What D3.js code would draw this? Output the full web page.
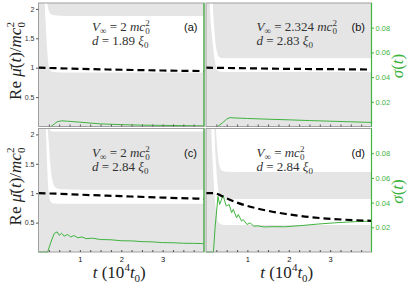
<!DOCTYPE html>
<html>
<head>
<meta charset="utf-8">
<script src="https://cdn.jsdelivr.net/npm/d3@7"></script>
<style>
body { margin: 0; background: #fff; }
svg { display: block; }
.tick text { font-family: "Liberation Sans", Arial, sans-serif; }
.serif { font-family: "Liberation Serif", "DejaVu Serif", serif; }
</style>
</head>
<body>
<script>
// ---- data ----
// t grid shared by the white band boundaries (units of 10^4 t0)
var bandT = [0.05, 0.1, 0.13, 0.15, 0.17, 0.19, 0.21, 0.23, 0.25, 0.28, 0.31, 0.35, 0.4, 0.5, 1, 4];

var aLow  = [9, 4.5, 2.8, 2.15, 1.8, 1.52, 1.3, 1.12, 1.02, 0.96, 0.94, 0.93, 0.925, 0.92, 0.92, 0.92];
var aHigh = [12, 6, 4, 3.3, 2.8, 2.4, 2.12, 2.02, 1.97, 1.93, 1.91, 1.895, 1.89, 1.885, 1.88, 1.88];

var bLow  = [4.5, 1.95, 1.65, 1.5, 1.36, 1.23, 1.13, 1.06, 1.0, 0.955, 0.94, 0.93, 0.927, 0.925, 0.925, 0.925];
var bHigh = [9, 4.5, 2.9, 2.35, 2.0, 1.75, 1.56, 1.42, 1.32, 1.23, 1.19, 1.17, 1.165, 1.16, 1.16, 1.16];

var cLow  = [8, 4.5, 3.6, 3.2, 2.3, 1.85, 1.45, 1.15, 0.98, 0.87, 0.84, 0.83, 0.825, 0.82, 0.82, 0.82];
var cHigh = [12, 7, 5, 4, 3.3, 2.7, 2.25, 2.02, 1.85, 1.55, 1.33, 1.18, 1.1, 1.07, 1.06, 1.06];
var cTop  = [14, 9, 6, 5, 4.2, 3.5, 2.8, 2.3, 2.12, 2.07, 2.055, 2.05, 2.05, 2.05, 2.05, 2.05];

var dLow  = [8, 3.2, 2.1, 1.7, 1.4, 1.15, 0.95, 0.78, 0.66, 0.55, 0.5, 0.475, 0.465, 0.46, 0.46, 0.46];
var dHigh = [14, 6, 3.9, 3.2, 2.7, 2.3, 1.95, 1.62, 1.4, 1.15, 1.0, 0.935, 0.915, 0.905, 0.9, 0.9];
var dTop  = [20, 9, 6, 4.8, 4, 3.3, 2.7, 2.25, 1.98, 1.7, 1.52, 1.42, 1.38, 1.365, 1.36, 1.36];

// Re mu(t) / m c0^2  (dashed)
var aReT = [0, 0.5, 1, 2, 3, 4];
var aRe  = [1, 0.99, 0.98, 0.965, 0.952, 0.943];
var bReT = [0, 1, 2, 3, 4];
var bRe  = [1, 0.99, 0.98, 0.975, 0.968];
var cReT = [0, 0.5, 1, 2, 3, 4];
var cRe  = [1, 0.99, 0.975, 0.95, 0.925, 0.905];
var dReT = [0, 0.2, 0.3, 0.45, 0.75, 1.07, 1.5, 1.9, 2.3, 3.1, 4];
var dRe  = [1, 1, 0.98, 0.93, 0.84, 0.77, 0.7, 0.65, 0.61, 0.56, 0.53];

// sigma(t) (green)
var aSigT = [0, 0.3, 0.38, 0.45, 0.56, 0.7, 1, 1.5, 2, 2.5, 3, 3.5, 4];
var aSig  = [0, 0, 0.002, 0.0038, 0.0046, 0.0043, 0.0035, 0.0021, 0.0015, 0.0011, 0.0009, 0.0007, 0.0005];
var bSigT = [0, 0.28, 0.4, 0.5, 0.58, 0.7, 1, 1.5, 2, 2.5, 3, 3.5, 4];
var bSig  = [0, 0, 0.003, 0.006, 0.0072, 0.0069, 0.0065, 0.0059, 0.0054, 0.0048, 0.0043, 0.0038, 0.0033];
var cSigT = [0, 0.22, 0.3, 0.38, 0.45, 0.5, 0.56, 0.62, 0.7, 0.78, 0.86, 0.95, 1.05, 1.15, 1.3, 1.5, 1.75, 2, 2.25, 2.5, 2.75, 3, 3.25, 3.5, 3.75, 3.98];
var cSig  = [0, 0, 0.008, 0.015, 0.0163, 0.0135, 0.0152, 0.0128, 0.0142, 0.0122, 0.0133, 0.0115, 0.0122, 0.0108, 0.0112, 0.0101, 0.0099, 0.0091, 0.0090, 0.0084, 0.0082, 0.0076, 0.0075, 0.0071, 0.0070, 0.0068];
var dSigT = [0, 0.18, 0.22, 0.29, 0.33, 0.37, 0.41, 0.49, 0.56, 0.62, 0.66, 0.74, 0.78, 0.86, 0.9, 0.99, 1.07, 1.15, 1.25, 1.4, 1.6, 1.9, 2.3, 2.7, 3.1, 3.5, 3.98];
var dSig  = [0, 0, 0.02, 0.045, 0.0385, 0.042, 0.046, 0.0372, 0.0385, 0.0318, 0.0345, 0.0277, 0.0304, 0.025, 0.0263, 0.0223, 0.0236, 0.0209, 0.0212, 0.0203, 0.0205, 0.0204, 0.0214, 0.0226, 0.0236, 0.0244, 0.025];

var yTicks = [0.5, 1, 1.5, 2];
var sigTicks = [0.02, 0.04, 0.06, 0.08];
var tTicks = [1, 2, 3];
var tMinor = [0.25, 0.5, 0.75, 1.25, 1.5, 1.75, 2.25, 2.5, 2.75, 3.25, 3.5, 3.75];

var panels = [
  {tag: "(a)", col: 0, row: 0, bands: [[aLow, aHigh]], reT: aReT, re: aRe, sigT: aSigT, sig: aSig, V: "2 ", d: "1.89"},
  {tag: "(b)", col: 1, row: 0, bands: [[bLow, bHigh]], reT: bReT, re: bRe, sigT: bSigT, sig: bSig, V: "2.324 ", d: "2.83"},
  {tag: "(c)", col: 0, row: 1, bands: [[cLow, cHigh], [cTop, null]], reT: cReT, re: cRe, sigT: cSigT, sig: cSig, V: "2 ", d: "2.84"},
  {tag: "(d)", col: 1, row: 1, bands: [[dLow, dHigh], [dTop, null]], reT: dReT, re: dRe, sigT: dSigT, sig: dSig, V: "", d: "2.84"}
];

// ---- layout ----
var W = 415, H = 288;
var panelW = 165.5, panelH = 123.5;
var cols = [38.5, 206], rows = [3, 128.5];
var green = "#3fb33f", gray = "#e5e5e5", frame = "#a0a0a0";

var svg = d3.select("body").append("svg")
    .attr("width", W)
    .attr("height", H);

// append tspans: [text, italic, size, dy, dx]
function rich(sel, parts) {
    parts.forEach(function(p) {
        var t = sel.append("tspan").text(p[0]);
        if (p[1]) t.attr("font-style", "italic");
        if (p[2]) t.attr("font-size", p[2]);
        if (p[3]) t.attr("dy", p[3]);
        if (p[4]) t.attr("dx", p[4]);
    });
}

panels.forEach(function(p, i) {
    var x0 = cols[p.col], y0 = rows[p.row];
    var g = svg.append("g").attr("transform", "translate(" + x0 + "," + y0 + ")");

    var x = d3.scaleLinear().domain([0, 4]).range([0, panelW]);
    var y = d3.scaleLinear().domain([0, 2.1]).range([panelH, 0]);
    var ys = d3.scaleLinear().domain([0, 0.1]).range([panelH, 0]);

    g.append("clipPath").attr("id", "clip" + i)
      .append("rect").attr("width", panelW).attr("height", panelH);

    g.append("rect").attr("width", panelW).attr("height", panelH).attr("fill", gray);

    var bg = g.append("g").attr("clip-path", "url(#clip" + i + ")");
    p.bands.forEach(function(b) {
        var area = d3.area().curve(d3.curveMonotoneX)
            .x(function(d, j) { return x(bandT[j]); })
            .y0(function(d, j) { return y(b[0][j]); })
            .y1(function(d, j) { return b[1] ? y(b[1][j]) : -5; });
        bg.append("path").datum(bandT).attr("d", area).attr("fill", "#fff");
    });

    // sigma line
    var sline = d3.line()
        .x(function(d, j) { return x(p.sigT[j]); })
        .y(function(d) { return ys(d); });
    g.append("path").datum(p.sig)
        .attr("d", sline)
        .attr("fill", "none")
        .attr("stroke", green)
        .attr("stroke-width", 1);

    // Re mu line
    var rline = d3.line().curve(d3.curveMonotoneX)
        .x(function(d, j) { return x(p.reT[j]); })
        .y(function(d) { return y(d); });
    g.append("path").datum(p.re)
        .attr("d", rline)
        .attr("fill", "none")
        .attr("stroke", "#000")
        .attr("stroke-width", 2.2)
        .attr("stroke-dasharray", "7,4");

    // frame
    g.append("rect").attr("width", panelW).attr("height", panelH)
        .attr("fill", "none").attr("stroke", frame).attr("stroke-width", 1);
    g.append("line").attr("x1", panelW).attr("x2", panelW).attr("y1", 0).attr("y2", panelH)
        .attr("stroke", green).attr("stroke-width", 1.2);

    // inward minor ticks on the bottom
    var minor = g.append("g").attr("transform", "translate(0," + panelH + ")")
        .call(d3.axisTop(x).tickValues(tMinor.concat(tTicks)).tickSize(2).tickFormat(""));
    minor.select(".domain").remove();
    minor.selectAll("line").attr("stroke", "#555");

    if (p.col === 0) {
        var ya = g.append("g")
            .call(d3.axisLeft(y).tickValues(yTicks).tickSize(2.5).tickPadding(1.5).tickFormat(d3.format("")));
        ya.select(".domain").remove();
        ya.selectAll("line").attr("stroke", "#555");
        ya.selectAll("text").attr("font-size", 7).attr("fill", "#333");
    } else {
        var sa = g.append("g").attr("transform", "translate(" + panelW + ",0)")
            .call(d3.axisRight(ys).tickValues(sigTicks).tickSize(2.5).tickPadding(1.5).tickFormat(d3.format(".2f")));
        sa.select(".domain").remove();
        sa.selectAll("line").attr("stroke", green);
        sa.selectAll("text").attr("font-size", 7.5).attr("fill", green);
    }

    if (p.row === 1) {
        var xa = g.append("g").attr("transform", "translate(0," + panelH + ")")
            .call(d3.axisBottom(x).tickValues(tTicks).tickSize(0).tickPadding(4.5).tickFormat(d3.format("d")));
        xa.select(".domain").remove();
        xa.selectAll("text").attr("font-size", 7.5).attr("fill", "#111");
    }

    // annotation
    var tx = p.col === 0 ? 53.5 : 50.5;
    var ty = p.row === 0 ? 28 : 28.5;
    var t1 = g.append("text").attr("class", "serif").attr("x", tx).attr("y", ty)
        .attr("font-size", 13).attr("fill", "#333");
    rich(t1, [["V", 1], ["\u221e", 0, 9, 3], [" = " + p.V, 0, null, -3], ["m", 1], ["c", 1],
              ["2", 0, 9, -5], ["0", 0, 9, 8, -4.5]]);
    var t2 = g.append("text").attr("class", "serif").attr("x", tx).attr("y", ty + 13.5)
        .attr("font-size", 13).attr("fill", "#333");
    rich(t2, [["d", 1], [" = " + p.d + " ", 0], ["\u03be", 1], ["0", 0, 9, 3]]);

    g.append("text").attr("x", 145.5).attr("y", ty)
        .attr("font-family", "Liberation Sans, Arial, sans-serif")
        .attr("font-size", 11).attr("fill", "#111")
        .text(p.tag);
});

// axis titles
rows.forEach(function(r) {
    var lt = svg.append("text").attr("class", "serif")
        .attr("transform", "translate(21," + (r + 58) + ") rotate(-90)")
        .attr("text-anchor", "middle").attr("font-size", 17).attr("fill", "#222");
    rich(lt, [["Re ", 0], ["\u03bc\u0304", 1], ["(", 0], ["t", 1], [")/", 0], ["m", 1], ["c", 1],
              ["2", 0, 11, -7], ["0", 0, 11, 11, -5.5]]);

    var st = svg.append("text").attr("class", "serif")
        .attr("transform", "translate(403," + (r + 63) + ") rotate(-90)")
        .attr("text-anchor", "middle").attr("font-size", 17).attr("fill", green);
    rich(st, [["\u03c3", 1], ["(", 0], ["t", 1], [")", 0]]);
});

cols.forEach(function(c) {
    var xt = svg.append("text").attr("class", "serif")
        .attr("x", c + panelW / 2 - 2).attr("y", 278)
        .attr("text-anchor", "middle").attr("font-size", 17).attr("fill", "#222");
    rich(xt, [["t", 1], [" (10", 0], ["4", 0, 11, -7], ["t", 1, 17, 7], ["0", 0, 11, 4], [")", 0, 17, -4]]);
});
</script>
</body>
</html>
